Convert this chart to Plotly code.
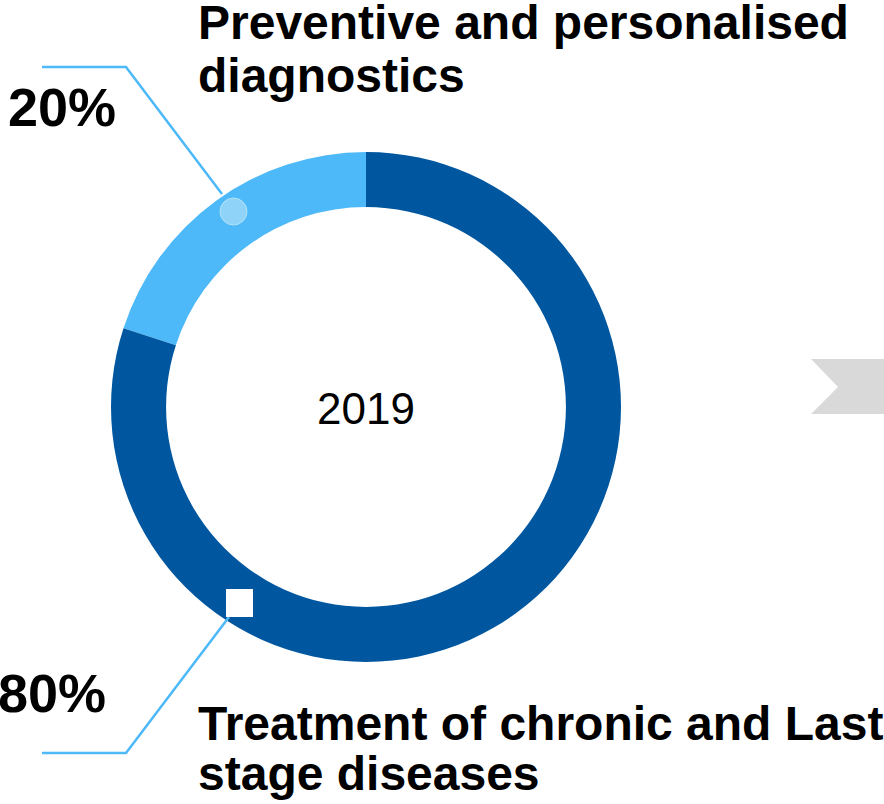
import plotly.graph_objects as go

W, H = 884, 804

# ---- data ----
segment_labels = ["Preventive and personalised diagnostics", "Treatment of chronic and Last stage diseases"]
segment_values = [20, 80]
segment_colors = ["#4DB9F9", "#00579F"]
center_label = "2019"
pct_labels = ["20%", "80%"]
title_lines_top = ["Preventive and personalised", "diagnostics"]
title_lines_bottom = ["Treatment of chronic and Last", "stage diseases"]


def px(x):
    return x / W


def py(y):
    return 1 - y / H


cx, cy, r = 366, 407, 255

# first slice ends at 12 o'clock, lying to its left
start_angle = -360 * segment_values[0] / sum(segment_values)

fig = go.Figure()
fig.add_trace(go.Pie(
    labels=segment_labels,
    values=segment_values,
    marker=dict(colors=segment_colors, line=dict(width=0)),
    hole=0.784,
    sort=False,
    direction="clockwise",
    rotation=start_angle,
    textinfo="none",
    hoverinfo="skip",
    showlegend=False,
    domain=dict(x=[px(cx - r), px(cx + r)], y=[py(cy + r), py(cy - r)]),
))

FONT = "Arial, 'Liberation Sans', sans-serif"
ann = []
# titles
for txt, y in zip(title_lines_top, [23, 75]):
    ann.append(dict(x=px(196), y=py(y), text="<b>%s</b>" % txt, xanchor="left", yanchor="middle",
                    font=dict(size=48, color="#000000", family=FONT)))
for txt, y in zip(title_lines_bottom, [723, 773]):
    ann.append(dict(x=px(196), y=py(y), text="<b>%s</b>" % txt, xanchor="left", yanchor="middle",
                    font=dict(size=48, color="#000000", family=FONT)))
# percentages
ann.append(dict(x=px(6), y=py(107), text="<b>%s</b>" % pct_labels[0], xanchor="left", yanchor="middle",
                font=dict(size=54, color="#000000", family=FONT)))
ann.append(dict(x=px(108), y=py(693), text="<b>%s</b>" % pct_labels[1], xanchor="right", yanchor="middle",
                font=dict(size=54, color="#000000", family=FONT)))
# center label
ann.append(dict(x=px(366), y=py(408), text=center_label, xanchor="center", yanchor="middle",
                font=dict(size=44, color="#000000", family=FONT)))
for a in ann:
    a.update(xref="paper", yref="paper", showarrow=False)

shapes = []
# leader lines
shapes.append(dict(type="path", xref="paper", yref="paper",
                   path="M %f %f L %f %f L %f %f" % (px(42), py(67), px(126), py(67), px(222), py(194)),
                   line=dict(color="#4DB9F9", width=2.5)))
shapes.append(dict(type="path", xref="paper", yref="paper",
                   path="M %f %f L %f %f L %f %f" % (px(42), py(753), px(126), py(753), px(229), py(617)),
                   line=dict(color="#4DB9F9", width=2.5)))
# markers
shapes.append(dict(type="circle", xref="paper", yref="paper",
                   x0=px(220), x1=px(247), y0=py(225), y1=py(198),
                   fillcolor="#8FD3F8", line=dict(color="#B3E1F7", width=1)))
shapes.append(dict(type="rect", xref="paper", yref="paper",
                   x0=px(226), x1=px(253), y0=py(617), y1=py(589),
                   fillcolor="#FFFFFF", line=dict(width=0)))
# chevron arrow
shapes.append(dict(type="path", xref="paper", yref="paper",
                   path="M %f %f L %f %f L %f %f L %f %f L %f %f Z" % (
                       px(811), py(359), px(890), py(359), px(890), py(414), px(811), py(414), px(838), py(387)),
                   fillcolor="#D9D9D9", line=dict(width=0)))

fig.update_layout(
    width=W, height=H, autosize=False,
    margin=dict(l=0, r=0, t=0, b=0),
    paper_bgcolor="#FFFFFF", plot_bgcolor="#FFFFFF",
    annotations=ann, shapes=shapes,
)

fig.write_html("out.html", config={"displayModeBar": False},
               post_script="document.body.style.margin='0';document.body.style.overflow='hidden';")
